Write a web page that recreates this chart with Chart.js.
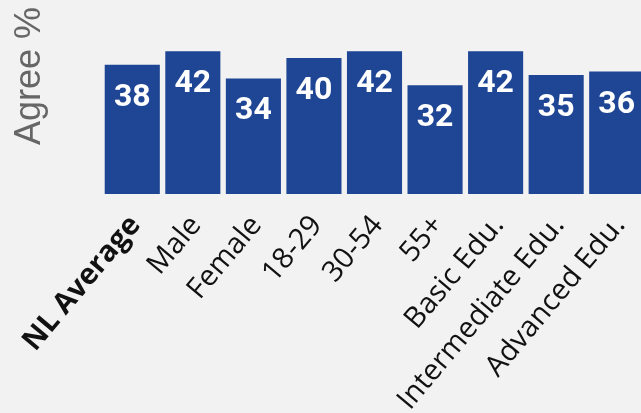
<!DOCTYPE html>
<html>
<head>
<meta charset="utf-8">
<script src="https://cdn.jsdelivr.net/npm/chart.js@4.4.1/dist/chart.umd.min.js"></script>
<style>
    html, body { margin: 0; padding: 0; background: #f2f2f2; overflow: hidden; }
    #wrap { width: 641px; height: 413px; overflow: hidden; }
    canvas { display: block; }
</style>
</head>
<body>
<div id="wrap"><canvas id="agreeChart" width="660" height="413"></canvas></div>
<script>
const categories = ["NL Average", "Male", "Female", "18-29", "30-54", "55+", "Basic Edu.", "Intermediate Edu.", "Advanced Edu."];
const agreeValues = [38, 42, 34, 40, 42, 32, 42, 35, 36];
const yMax = 55;

// white value labels near the top of each bar
const valueLabels = {
    id: "valueLabels",
    afterDatasetsDraw(chart) {
        const ctx = chart.ctx;
        const meta = chart.getDatasetMeta(0);
        ctx.save();
        ctx.fillStyle = "#ffffff";
        ctx.font = "bold 32px Roboto";
        ctx.textAlign = "center";
        ctx.textBaseline = "middle";
        meta.data.forEach((bar, i) => {
            ctx.fillText(agreeValues[i], bar.x, bar.y + 33);
        });
        ctx.restore();
    }
};

const ctx = document.getElementById("agreeChart").getContext("2d");
new Chart(ctx, {
    type: "bar",
    data: {
        labels: categories,
        datasets: [{
            data: agreeValues,
            backgroundColor: "#1f4595",
            barPercentage: 0.91,
            categoryPercentage: 1.0
        }]
    },
    options: {
        responsive: false,
        animation: false,
        layout: { padding: { top: 7, right: 13, bottom: 0, left: 0 } },
        plugins: {
            legend: { display: false },
            tooltip: { enabled: false }
        },
        scales: {
            x: {
                grid: { display: false, drawTicks: false },
                border: { display: false },
                ticks: {
                    color: "#111",
                    minRotation: 50,
                    maxRotation: 50,
                    autoSkip: false,
                    padding: 15,
                    labelOffset: 3,
                    font: (c) => ({
                        family: "Open Sans",
                        size: 29,
                        weight: c.index === 0 ? "bold" : "normal"
                    })
                },
                afterFit: (scale) => { scale.height = 219; }
            },
            y: {
                min: 0,
                max: yMax,
                grid: { display: false, drawTicks: false },
                border: { display: false },
                ticks: { display: false },
                title: {
                    display: true,
                    text: "Agree %",
                    align: "end",
                    color: "#666",
                    font: { family: "Liberation Sans", size: 36 },
                    padding: { top: 8, bottom: 0 }
                },
                afterFit: (scale) => { scale.width = 102; }
            }
        }
    },
    plugins: [valueLabels]
});
</script>
</body>
</html>
